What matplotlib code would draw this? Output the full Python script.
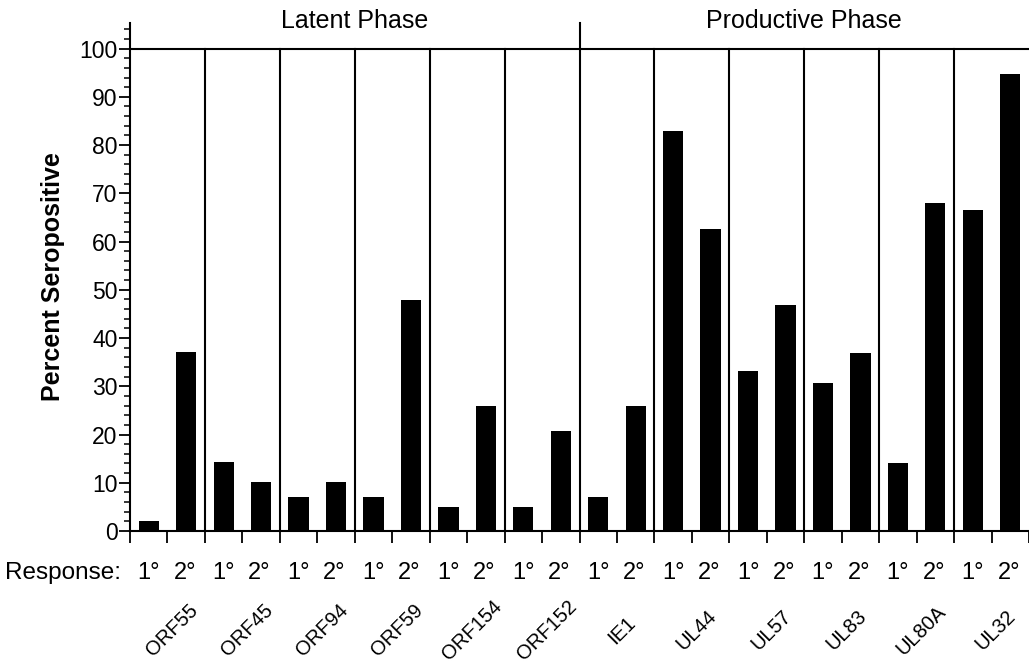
import matplotlib
matplotlib.use('Agg')
import matplotlib.pyplot as plt
import numpy as np
from matplotlib.ticker import MultipleLocator

plt.rcParams['font.family'] = ['Liberation Sans', 'DejaVu Sans']

# data
antigens = ['ORF55', 'ORF45', 'ORF94', 'ORF59', 'ORF154', 'ORF152',
            'IE1', 'UL44', 'UL57', 'UL83', 'UL80A', 'UL32']
primary = [2, 14.2, 7.1, 7.1, 5, 5, 7, 83, 33.1, 30.6, 14.1, 66.5]
secondary = [37.1, 10.2, 10.2, 47.8, 25.9, 20.8, 26, 62.7, 46.8, 37, 67.9, 94.8]
response_labels = ['1°', '2°']
phases = ['Latent Phase', 'Productive Phase']

n = len(antigens)
g = np.arange(n)

fig = plt.figure(figsize=(10.29, 6.63), dpi=100)
ax = fig.add_axes([130 / 1029, 132 / 663, 899 / 1029, 508 / 663])

w = 0.27
ax.bar(g + 0.25, primary, width=w, color='black')
ax.bar(g + 0.75, secondary, width=w, color='black')

ax.set_xlim(0, 899 / 75.25)
ax.set_ylim(0, 105.3)

# frame: top line at 100, group separators, phase separator
ax.axhline(100, color='black', lw=1.5)
for x in range(1, n):
    top = 105.3 if x == 6 else 100
    ax.plot([x, x], [0, top], color='black', lw=1.5, clip_on=False)

for s in ['top', 'right']:
    ax.spines[s].set_visible(False)
ax.spines['left'].set_linewidth(1.5)
ax.spines['bottom'].set_linewidth(1.5)

ax.yaxis.set_major_locator(MultipleLocator(10))
ax.yaxis.set_minor_locator(MultipleLocator(2))
ax.tick_params(axis='y', which='major', length=8, width=1.3, labelsize=16.5, pad=1)
ax.tick_params(axis='y', which='minor', length=4.3, width=1.1)
ax.set_xticks(np.arange(0, n + 0.5, 0.5))
ax.set_xticklabels([])
ax.tick_params(axis='x', which='major', length=8.5, width=1.3)

ax.set_ylabel('Percent Seropositive', fontsize=18, fontweight='bold', labelpad=10)

# response row
ax.text(-0.12, -8.7, 'Response:', ha='right', va='center', fontsize=17.5, clip_on=False)
for i in range(n):
    for j, lab in enumerate(response_labels):
        ax.text(i + 0.25 + 0.48 * j, -8.7, lab, ha='center', va='center',
                fontsize=17, clip_on=False)
    ax.text(i + 0.56, -20.6, antigens[i], ha='center', va='center', rotation=45,
            rotation_mode='anchor', fontsize=14.5, clip_on=False)

# phase headers
ax.text(3, 105.8, phases[0], ha='center', va='center', fontsize=18, clip_on=False)
ax.text(9, 105.8, phases[1], ha='center', va='center', fontsize=18, clip_on=False)

fig.savefig('out.png', dpi=100)
